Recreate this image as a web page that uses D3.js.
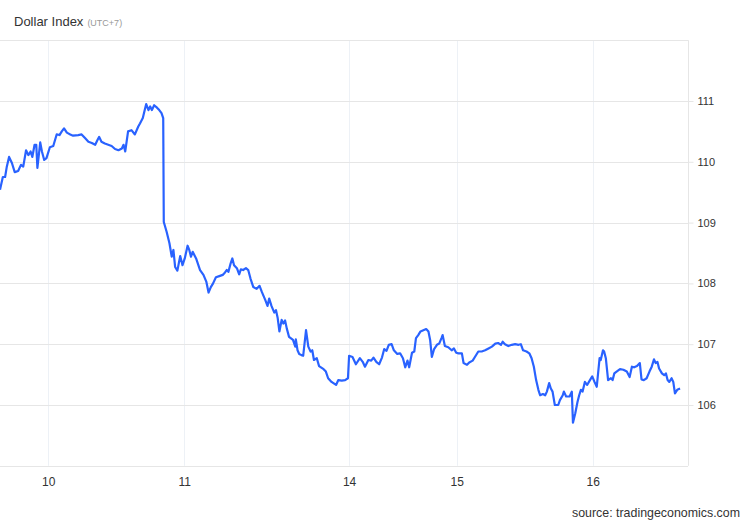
<!DOCTYPE html>
<html>
<head>
<meta charset="utf-8">
<script src="https://cdn.jsdelivr.net/npm/d3@7"></script>
<style>
  html, body { margin: 0; padding: 0; background: #fff; }
  svg { display: block; font-family: "Liberation Sans", Arial, sans-serif; }
</style>
</head>
<body>
<svg id="chart" width="750" height="520"></svg>
<script>
// ---- data (trading-time in hours from first point, Dollar Index value) ----
const times = [
 0.0,0.5,0.9,1.2,1.6,2.1,2.6,3.2,3.7,4.1,4.6,5.0,5.4,5.7,6.1,6.4,6.6,7.1,7.4,7.8,
 8.2,8.8,9.4,10.0,10.5,10.9,11.3,11.8,12.4,12.9,13.8,14.4,15.0,15.6,16.2,16.8,17.2,17.5,17.9,18.5,
 19.1,19.7,20.3,20.9,21.5,21.8,22.1,22.6,23.2,23.8,24.4,24.7,25.2,25.4,25.8,26.2,26.5,26.8,27.2,27.7,
 28.1,28.5,28.8,28.9,
 29.4,29.9,30.3,30.6,30.9,31.3,31.8,32.2,32.6,33.1,33.4,33.7,34.0,34.6,35.3,35.9,36.4,36.8,37.2,37.6,
 38.1,38.7,39.3,39.7,40.0,40.3,40.7,41.0,41.3,41.8,42.2,42.5,42.9,43.4,43.8,44.2,44.7,45.3,45.8,46.2,
 46.8,47.2,47.5,47.9,48.4,48.7,49.0,49.3,49.7,50.0,50.3,50.6,51.0,
 51.7,52.1,52.2,52.5,52.8,53.2,53.5,54.0,54.4,54.8,55.1,55.4,55.9,56.3,57.1,57.5,57.9,58.5,59.3,59.7,
 60.3,60.9,61.4,61.6,62.2,62.8,63.5,64.0,64.4,65.0,65.5,65.9,66.4,66.9,67.4,67.8,68.2,68.6,69.1,69.5,
 70.1,70.6,71.1,71.5,71.9,72.2,72.7,73.1,73.4,73.8,74.2,74.7,75.2,75.6,75.9,76.2,76.6,77.1,77.5,77.9,
 78.1,78.5,79.1,79.7,80.1,80.5,80.9,81.5,81.8,82.4,82.8,83.4,83.8,84.4,85.0,85.6,86.2,86.8,87.4,87.9,
 88.4,88.7,89.1,89.7,90.3,90.9,91.5,91.9,92.3,92.9,93.4,93.8,94.2,94.6,95.0,95.3,95.8,96.2,96.5,96.9,
 97.2,97.5,97.9,98.5,98.8,99.3,99.5,99.9,100.5,100.9,101.1,101.5,101.9,102.2,102.5,102.8,103.2,103.6,104.1,104.5,
 104.9,105.3,105.8,106.0,106.4,106.6,106.9,107.3,107.8,108.1,108.4,108.8,109.4,110.0,110.6,111.1,111.5,111.9,112.4,112.9,
 113.2,113.6,114.1,114.6,115.0,115.4,115.7,116.0,116.3,116.8,117.2,117.5,117.8,118.1,118.5,118.8,119.1,119.5,120.0
];
const values = [
 109.54,109.75,109.75,109.92,110.08,109.98,109.83,109.85,109.95,109.92,110.19,110.11,110.17,110.08,110.28,110.28,109.90,110.32,110.17,110.03,
 110.06,110.24,110.26,110.45,110.44,110.50,110.55,110.48,110.45,110.43,110.44,110.45,110.39,110.33,110.31,110.28,110.36,110.41,110.33,110.30,
 110.28,110.26,110.21,110.19,110.22,110.28,110.17,110.50,110.52,110.45,110.58,110.63,110.72,110.80,110.95,110.85,110.91,110.85,110.93,110.89,
 110.85,110.80,110.72,109.01,
 108.85,108.66,108.44,108.55,108.27,108.21,108.45,108.30,108.41,108.62,108.55,108.44,108.52,108.41,108.22,108.14,108.03,107.85,107.94,108.00,
 108.10,108.12,108.14,108.18,108.22,108.19,108.33,108.41,108.30,108.25,108.15,108.23,108.22,108.25,108.22,108.08,107.94,107.91,107.96,107.86,
 107.73,107.63,107.75,107.63,107.52,107.56,107.43,107.21,107.40,107.34,107.39,107.26,107.12,
 107.07,106.96,107.08,106.90,106.84,106.82,106.81,107.23,106.96,106.88,106.90,106.74,106.77,106.64,106.59,106.55,106.44,106.38,106.33,106.41,
 106.40,106.41,106.44,106.81,106.79,106.67,106.77,106.71,106.63,106.74,106.73,106.78,106.71,106.67,106.78,106.92,106.89,106.99,107.00,106.90,
 106.84,106.85,106.77,106.62,106.73,106.62,106.86,106.88,107.10,107.15,107.21,107.23,107.25,107.21,107.07,106.79,106.92,106.99,107.01,107.10,
 107.15,106.97,106.95,106.90,106.93,106.86,106.85,106.85,106.69,106.66,106.70,106.73,106.79,106.88,106.88,106.90,106.93,106.96,107.01,107.02,
 106.99,107.04,107.00,106.97,106.99,107.00,106.99,107.00,106.90,106.88,106.85,106.77,106.63,106.41,106.25,106.16,106.18,106.16,106.22,106.36,
 106.27,106.22,106.00,106.00,106.08,106.16,106.22,106.14,106.14,106.22,105.71,105.86,106.05,106.16,106.25,106.22,106.38,106.33,106.41,106.47,
 106.38,106.30,106.77,106.74,106.90,106.88,106.77,106.41,106.44,106.41,106.52,106.55,106.59,106.58,106.55,106.46,106.63,106.62,106.64,106.69,
 106.42,106.41,106.44,106.55,106.63,106.75,106.69,106.71,106.60,106.52,106.49,106.52,106.41,106.38,106.44,106.38,106.19,106.25,106.27
];
const xTickTimes  = [8.5, 32.5, 61.6, 80.6, 104.6];
const xTickLabels = ["10", "11", "14", "15", "16"];
const yTicks      = [106, 107, 108, 109, 110, 111];
const yGrid       = [105, 106, 107, 108, 109, 110, 111, 112];
const xDomain     = [0, 121.4];
const yDomain     = [105, 112];

const data = times.map((t, i) => ({ t, v: values[i] }));

// ---- layout ----
const svg = d3.select("#chart");
const plot = { left: 0, right: 688, top: 40.2, bottom: 465.8 };

const x = d3.scaleLinear().domain(xDomain).range([plot.left, plot.right]);
const y = d3.scaleLinear().domain(yDomain).range([plot.bottom, plot.top]);

// vertical gridlines
svg.append("g").selectAll("line").data(xTickTimes).join("line")
  .attr("x1", d => Math.round(x(d)) + 0.5).attr("x2", d => Math.round(x(d)) + 0.5)
  .attr("y1", plot.top).attr("y2", plot.bottom)
  .attr("stroke", "#edf1f6").attr("stroke-width", 1);

// horizontal gridlines
svg.append("g").selectAll("line").data(yGrid).join("line")
  .attr("x1", plot.left).attr("x2", plot.right)
  .attr("y1", d => Math.round(y(d)) + 0.5).attr("y2", d => Math.round(y(d)) + 0.5)
  .attr("stroke", "#e6e6e6").attr("stroke-width", 1);

// right axis
const yAxis = d3.axisRight(y).tickValues(yTicks).tickSize(5).tickPadding(4).tickFormat(d3.format("d"));
const gy = svg.append("g").attr("transform", `translate(${plot.right + 0.5},0)`).call(yAxis);
gy.select(".domain").attr("stroke", "#e6e6e6").attr("d", `M0,${plot.top}V${plot.bottom}`);
gy.selectAll(".tick line").attr("stroke", "#e6e6e6");
gy.selectAll(".tick text").attr("fill", "#333").style("font-size", "11px")
  .style("font-family", '"Liberation Sans", Arial, sans-serif');

// bottom axis labels
const xAxis = d3.axisBottom(x).tickValues(xTickTimes).tickSize(0).tickPadding(12)
  .tickFormat((d, i) => xTickLabels[i]);
const gx = svg.append("g").attr("transform", `translate(0,${plot.bottom})`).call(xAxis);
gx.select(".domain").remove();
gx.selectAll(".tick text").attr("fill", "#333").style("font-size", "12px")
  .style("font-family", '"Liberation Sans", Arial, sans-serif');

// line
svg.append("defs").append("clipPath").attr("id", "clip")
  .append("rect").attr("x", plot.left).attr("y", plot.top - 5)
  .attr("width", plot.right - plot.left).attr("height", plot.bottom - plot.top + 10);

const line = d3.line().x(d => x(d.t)).y(d => y(d.v));
svg.append("path").datum(data)
  .attr("clip-path", "url(#clip)")
  .attr("fill", "none")
  .attr("stroke", "#2962ff")
  .attr("stroke-width", 2.2)
  .attr("stroke-linejoin", "round")
  .attr("d", line);

// title
const title = svg.append("text").attr("x", 14).attr("y", 25.5)
  .attr("fill", "#333").style("font-size", "13px");
title.append("tspan").text("Dollar Index");
title.append("tspan").attr("dx", 4).attr("fill", "#999").style("font-size", "9px").text("(UTC+7)");

// source
svg.append("text").attr("x", 740).attr("y", 517).attr("text-anchor", "end")
  .attr("fill", "#333").style("font-size", "12.4px").text("source: tradingeconomics.com");
</script>
</body>
</html>
